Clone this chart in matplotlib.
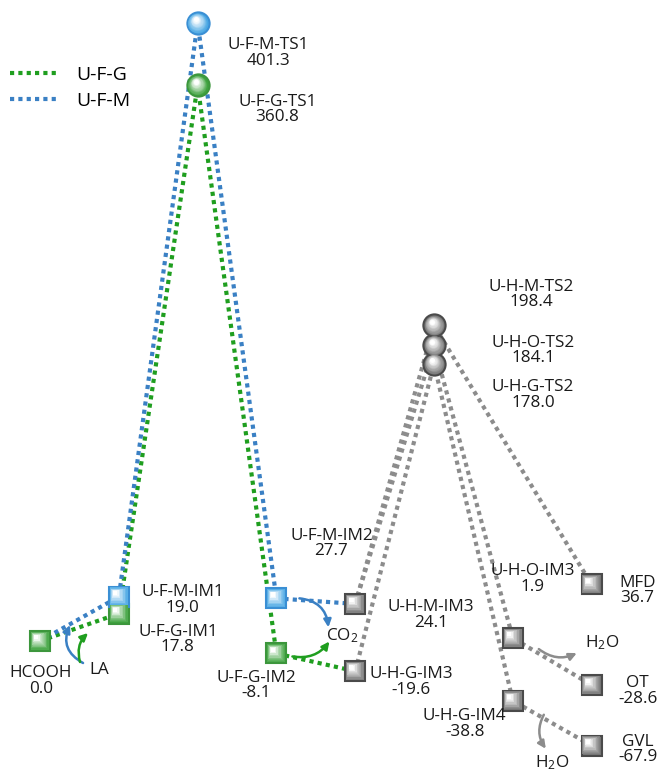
import numpy as np
import matplotlib
matplotlib.use("Agg")
import matplotlib.pyplot as plt
from matplotlib.lines import Line2D
from matplotlib.transforms import offset_copy
from matplotlib.colors import to_rgb

plt.rcParams["font.family"] = ["Open Sans", "DejaVu Sans"]
plt.rcParams["mathtext.default"] = "regular"

# --- data ---------------------------------------------------------------
node_names = ["HCOOH", "U-F-G-IM1", "U-F-M-IM1", "U-F-G-TS1", "U-F-M-TS1",
              "U-F-G-IM2", "U-F-M-IM2", "U-H-G-IM3", "U-H-M-IM3",
              "U-H-G-TS2", "U-H-O-TS2", "U-H-M-TS2", "U-H-G-IM4",
              "U-H-O-IM3", "GVL", "OT", "MFD"]
node_stage = [0, 1, 1, 2, 2, 3, 3, 4, 4, 5, 5, 5, 6, 6, 7, 7, 7]
node_energy = [0.0, 17.8, 19.0, 360.8, 401.3, -8.1, 27.7, -19.6, 24.1,
               178.0, 184.1, 198.4, -38.8, 1.9, -67.9, -28.6, 36.7]
node_group = ["G", "G", "M", "G", "M", "G", "M", "H", "H",
              "H", "H", "H", "H", "H", "H", "H", "H"]

ufg_path = ["HCOOH", "U-F-G-IM1", "U-F-G-TS1", "U-F-G-IM2", "U-H-G-IM3"]
ufm_path = ["HCOOH", "U-F-M-IM1", "U-F-M-TS1", "U-F-M-IM2", "U-H-M-IM3"]
uhg_path = ["U-H-G-IM3", "U-H-G-TS2", "U-H-G-IM4", "GVL"]
uhm_path = ["U-H-M-IM3", "U-H-M-TS2", "MFD"]
uho_path = ["U-H-M-IM3", "U-H-O-TS2", "U-H-O-IM3", "OT"]

legend_labels = ["U-F-G", "U-F-M"]

# --- figure -------------------------------------------------------------
W, H = 660, 773
fig = plt.figure(figsize=(W / 100, H / 100), dpi=100)
ax = fig.add_axes([0, 0, 1, 1])
ax.axis("off")
ax.set_xlim(-0.508, 7.868)
ax.set_ylim(-85.7, 416.2)
upp = (416.2 + 85.7) / H  # energy units per pixel

green = "#1f9e1f"
blue = "#3a80c4"
gray = "#8c8c8c"

# stacked markers are spread apart a little, like in the original drawing
nudge = {"U-F-M-IM1": 15, "U-H-M-TS2": 10, "U-H-O-TS2": 12, "U-H-G-TS2": 3}

idx = {n: i for i, n in enumerate(node_names)}


def pos(n):
    i = idx[n]
    return node_stage[i], node_energy[i] + nudge.get(n, 0) * upp


def draw_path(path, color):
    xs, ys = zip(*[pos(n) for n in path])
    ax.plot(xs, ys, color=color, lw=3, ls=(0, (1, 1)),
            dash_capstyle="butt", zorder=1)


draw_path(uhg_path, gray)
draw_path(uhm_path, gray)
draw_path(uho_path, gray)
draw_path(ufg_path, green)
draw_path(ufm_path, blue)

palettes = {
    "G": ("#3c963c", "#3fa33f"),
    "M": ("#3a8fd4", "#4aa8e4"),
    "H": ("#4a4a4a", "#777777"),
}


def shifted(dx, dy):
    return offset_copy(ax.transData, fig=fig, x=dx, y=dy, units="dots")


# fake the glossy gradient with stacked, shrinking, lighter markers
for n in node_names:
    x, y = pos(n)
    edge, base = palettes[node_group[idx[n]]]
    is_ts = "TS" in n
    mk = "o" if is_ts else "s"
    size = 16 if is_ts else 14.5
    ax.plot(x, y, marker=mk, ms=size, mfc=base, mec=edge, mew=1.5, zorder=3)
    c0 = np.array(to_rgb(base))
    steps = 14
    for k in range(1, steps):
        t = k / steps
        col = c0 + (1 - c0) * min(1.0, t * 1.15)
        s = size * (1 - 0.8 * t) - 1.4
        off = 4.2 * t
        ax.plot(x, y, marker=mk, ms=s, mfc=col, mew=0, zorder=3 + k * 0.1,
                transform=shifted(-off * (0.5 if is_ts else 1), off))

# --- labels -------------------------------------------------------------
label_off = {
    "HCOOH": (1, -40), "U-F-G-IM1": (59, -26), "U-F-M-IM1": (64, -3),
    "U-F-G-TS1": (80, -24), "U-F-M-TS1": (71, -30), "U-F-G-IM2": (-20, -32),
    "U-F-M-IM2": (55, 55), "U-H-G-IM3": (56, -11), "U-H-M-IM3": (76, -11),
    "U-H-G-TS2": (99, -31), "U-H-O-TS2": (99, -5), "U-H-M-TS2": (97, 31),
    "U-H-G-IM4": (-48, -23), "U-H-O-IM3": (20, 59), "GVL": (46, -4),
    "OT": (46, -6), "MFD": (46, -6),
}
for n in node_names:
    dx, dy = label_off[n]
    ax.annotate(f"{n}\n{node_energy[idx[n]]:.1f}", xy=pos(n),
                xytext=(dx, dy), textcoords="offset pixels",
                ha="center", va="center", fontsize=12.3, linespacing=0.96,
                color="#1a1a1a", zorder=10)

extra = [("LA", "HCOOH", (59, -29)), ("CO$_2$", "U-F-G-IM2", (66, 18)),
         ("H$_2$O", "U-H-O-IM3", (89, -5)), ("H$_2$O", "U-H-G-IM4", (39, -62))]
for txt, n, (dx, dy) in extra:
    ax.annotate(txt, xy=pos(n), xytext=(dx, dy), textcoords="offset pixels",
                ha="center", va="center", fontsize=12.3, color="#1a1a1a")

# curved arrows: (node, start offset, end offset, rad, colour)
arrows = [
    ("HCOOH", (43, -22), (30, 16), -0.45, blue),
    ("HCOOH", (40, -21), (48, 8), -0.3, green),
    ("U-F-M-IM2", (23, 0), (52, -29), -0.4, blue),
    ("U-F-G-IM2", (16, -3), (53, 12), 0.3, green),
    ("U-H-O-IM3", (26, -11), (64, -15), 0.3, gray),
    ("U-H-G-IM4", (31, -14), (33, -48), 0.3, gray),
]
for n, (sx, sy), (ex, ey), rad, col in arrows:
    p = pos(n)
    ax.annotate("", xy=p, xycoords=shifted(ex, ey), xytext=p,
                textcoords=shifted(sx, sy),
                arrowprops=dict(arrowstyle="-|>,head_length=0.45,head_width=0.22",
                                color=col, lw=1.8, shrinkA=0, shrinkB=0,
                                connectionstyle=f"arc3,rad={rad}"),
                zorder=6)

handles = [Line2D([], [], color=c, lw=3, ls=(0, (1, 1)), dash_capstyle="butt")
           for c in (green, blue)]
ax.legend(handles, legend_labels, loc="upper left",
          bbox_to_anchor=(10 / W, 1 - 66 / H), bbox_transform=fig.transFigure,
          frameon=False, fontsize=14, handlelength=2.4, handletextpad=1.0,
          labelspacing=0.4, borderpad=0, borderaxespad=0)

fig.savefig("out.png", dpi=100)
